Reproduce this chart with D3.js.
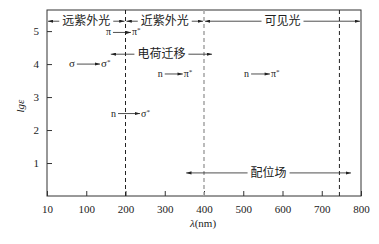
<!DOCTYPE html>
<html>
<head>
<meta charset="utf-8">
<script src="https://cdn.jsdelivr.net/npm/d3@7"></script>
<style>
  body { margin: 0; background: #fff; }
  text { font-family: "Liberation Serif", "DejaVu Serif", serif; fill: #222; }
  .cjk { font-family: "Noto Sans CJK SC", sans-serif; }
</style>
</head>
<body>
<div id="chart"></div>
<script>
// x tick values (0 is labelled "10" in the original figure)
var xTicks = [0, 100, 200, 300, 400, 500, 600, 700, 800];
var xTickLabels = ["10", "100", "200", "300", "400", "500", "600", "700", "800"];
var yTicks = [1, 2, 3, 4, 5];

// vertical dashed boundaries
var boundaries = [200, 400, 745];
var boundaryColors = ["#222", "#aaa", "#222"];

// range bands: label, from, to, lg value
var bandNames = ["远紫外光", "近紫外光", "可见光", "电荷迁移", "配位场"];
var bandFrom = [0, 200, 400, 160, 352];
var bandTo = [200, 400, 800, 423, 777];
var bandY = [5.3, 5.3, 5.3, 4.3, 0.7];

// transitions: from-orbital, to-orbital, arrow start, arrow end, lg value
var transFrom = ["π", "σ", "n", "n", "n"];
var transTo = ["π*", "σ*", "π*", "π*", "σ*"];
var transX1 = [168, 76, 300, 520, 181];
var transX2 = [214, 135, 346, 568, 237];
var transY = [4.96, 4.0, 3.7, 3.7, 2.5];

var width = 379, height = 244;
var svg = d3.select("#chart").append("svg")
    .attr("width", width)
    .attr("height", height);

var x = d3.scaleLinear().domain([0, 800]).range([47, 361]);
var y = d3.scaleLinear().domain([0, 5.64]).range([196, 10]);

// arrow marker
var defs = svg.append("defs");
defs.append("marker")
    .attr("id", "ah")
    .attr("viewBox", "0 0 10 6")
    .attr("refX", 10).attr("refY", 3)
    .attr("markerWidth", 7).attr("markerHeight", 4)
    .attr("orient", "auto")
    .append("path")
    .attr("d", "M0,0 L10,3 L0,6 Z")
    .attr("fill", "#222");

// frame
svg.append("rect")
    .attr("x", x(0)).attr("y", y(5.64))
    .attr("width", x(800) - x(0))
    .attr("height", y(0) - y(5.64))
    .attr("fill", "none")
    .attr("stroke", "#333")
    .attr("stroke-width", 1);

// bottom axis, ticks pointing inward
var xAxis = svg.append("g")
    .attr("transform", "translate(0," + y(0) + ")")
    .call(d3.axisBottom(x).tickValues(xTicks)
        .tickSizeInner(-5).tickSizeOuter(0)
        .tickPadding(9)
        .tickFormat(function (d, i) { return xTickLabels[i]; }));
xAxis.select(".domain").remove();
xAxis.selectAll("line").attr("stroke", "#333");
xAxis.selectAll("text").style("font-size", "11px")
    .style("font-family", "Liberation Serif").attr("fill", "#222");

// left axis
var yAxis = svg.append("g")
    .attr("transform", "translate(" + x(0) + ",0)")
    .call(d3.axisLeft(y).tickValues(yTicks)
        .tickSizeInner(-5).tickSizeOuter(0)
        .tickPadding(8)
        .tickFormat(d3.format("d")));
yAxis.select(".domain").remove();
yAxis.selectAll("line").attr("stroke", "#333");
yAxis.selectAll("text").style("font-size", "11px")
    .style("font-family", "Liberation Serif").attr("fill", "#222");

// axis labels
svg.append("text")
    .attr("transform", "translate(24,106) rotate(-90)")
    .attr("text-anchor", "middle")
    .style("font-size", "11px")
    .style("font-style", "italic")
    .text("lgε");

var xl = svg.append("text")
    .attr("x", 203).attr("y", 227)
    .attr("text-anchor", "middle")
    .style("font-size", "11px");
xl.append("tspan").style("font-style", "italic").text("λ");
xl.append("tspan").text("(nm)");

// dashed boundaries
svg.selectAll(".bound")
    .data(boundaries)
    .enter().append("line")
    .attr("class", "bound")
    .attr("x1", function (d) { return x(d); })
    .attr("x2", function (d) { return x(d); })
    .attr("y1", y(5.64)).attr("y2", y(0))
    .attr("stroke", function (d, i) { return boundaryColors[i]; })
    .attr("stroke-width", function (d, i) { return i == 1 ? 1.6 : 1; })
    .attr("stroke-dasharray", "4,3");

// range bands: arrow - text - arrow
var bandFont = 12;
bandNames.forEach(function (name, i) {
    var x1 = x(bandFrom[i]) + 1, x2 = x(bandTo[i]) - 1;
    var cy = y(bandY[i]);
    var tw = name.length * bandFont;
    var cx = (x1 + x2) / 2;
    var gap = 3;
    svg.append("line")
        .attr("x1", cx - tw / 2 - gap).attr("y1", cy)
        .attr("x2", x1).attr("y2", cy)
        .attr("stroke", "#222").attr("stroke-width", 0.8)
        .attr("marker-end", "url(#ah)");
    svg.append("line")
        .attr("x1", cx + tw / 2 + gap).attr("y1", cy)
        .attr("x2", x2).attr("y2", cy)
        .attr("stroke", "#222").attr("stroke-width", 0.8)
        .attr("marker-end", "url(#ah)");
    svg.append("text")
        .attr("class", "cjk")
        .attr("x", cx).attr("y", cy + 4)
        .attr("text-anchor", "middle")
        .style("font-size", bandFont + "px")
        .text(name);
});

// transitions
transFrom.forEach(function (f, i) {
    var cy = y(transY[i]);
    var big = (f == "σ");
    svg.append("line")
        .attr("x1", x(transX1[i])).attr("y1", cy)
        .attr("x2", x(transX2[i])).attr("y2", cy)
        .attr("stroke", "#222").attr("stroke-width", 0.8)
        .attr("marker-end", "url(#ah)");
    svg.append("text")
        .attr("x", x(transX1[i]) - 2).attr("y", cy + 3)
        .attr("text-anchor", "end")
        .style("font-size", big ? "11px" : "10px")
        .text(f);
    var t = svg.append("text")
        .attr("x", x(transX2[i]) + 1).attr("y", cy + 3)
        .style("font-size", big ? "11px" : "10px");
    t.append("tspan").text(transTo[i].charAt(0));
    t.append("tspan").attr("dy", -3).style("font-size", "7px").text("*");
});
</script>
</body>
</html>
